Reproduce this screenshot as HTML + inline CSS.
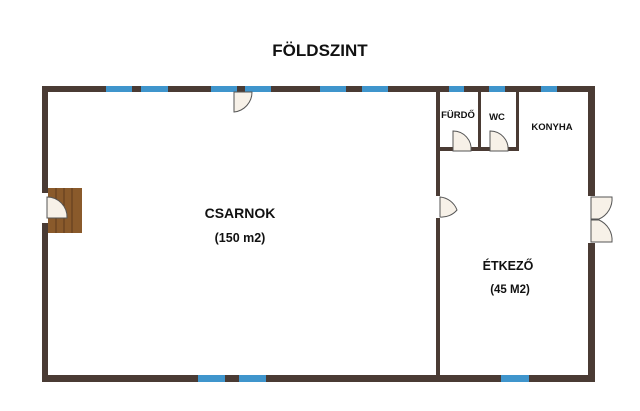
<!DOCTYPE html>
<html><head><meta charset="utf-8"><style>
html,body{margin:0;padding:0;background:#fff;}
svg{display:block}
text{font-family:"Liberation Sans",sans-serif;font-weight:bold;fill:#111;text-anchor:middle}
</style></head><body>
<svg width="640" height="411" viewBox="0 0 640 411" xmlns="http://www.w3.org/2000/svg">
<rect width="640" height="411" fill="#fff"/>
<text x="320" y="56" font-size="17">FÖLDSZINT</text>
<g fill="#4a3b34">
<rect x="42" y="86" width="553" height="6"/>
<rect x="42" y="86" width="6" height="296"/>
<rect x="42" y="375" width="553" height="7"/>
<rect x="588" y="86" width="7" height="296"/>
<rect x="436" y="89" width="4" height="290"/>
<rect x="478" y="89" width="3" height="62"/>
<rect x="516" y="89" width="3" height="62"/>
<rect x="436" y="147" width="83" height="4"/>
</g>
<g fill="#3f95cc">
<rect x="106" y="86" width="26" height="6"/><rect x="141" y="86" width="27" height="6"/>
<rect x="211" y="86" width="26" height="6"/><rect x="245" y="86" width="26" height="6"/>
<rect x="320" y="86" width="26" height="6"/><rect x="362" y="86" width="26" height="6"/>
<rect x="449" y="86" width="15" height="6"/><rect x="489" y="86" width="16" height="6"/>
<rect x="541" y="86" width="16" height="6"/>
<rect x="198" y="375" width="27" height="7"/><rect x="239" y="375" width="27" height="7"/>
<rect x="501" y="375" width="28" height="7"/>
</g>
<rect x="48" y="188" width="34" height="45" fill="#8a5a2b"/>
<g stroke="#5e3b1c" stroke-width="1"><line x1="56" y1="188" x2="56" y2="233"/><line x1="64" y1="188" x2="64" y2="233"/><line x1="72" y1="188" x2="72" y2="233"/></g>
<g fill="#f7f1e8" stroke="#555" stroke-width="1">
<rect x="42" y="193" width="6" height="30" fill="#fff" stroke="none"/>
<path d="M47 197 L47 218 L67 218 A20 20 0 0 0 47 197 Z"/>
<path d="M234 92 L234 112 A20 20 0 0 0 252 92 Z"/>
<rect x="436" y="196" width="4" height="22" fill="#fff" stroke="none"/>
<path d="M440 197 L440 217 A20 20 0 0 0 457 210 A20 20 0 0 0 440 197 Z"/>
<path d="M453 151 L453 131 A18 18 0 0 1 471 151 Z"/>
<path d="M490 151 L490 131 A18 18 0 0 1 508 151 Z"/>
<rect x="588" y="196" width="7" height="47" fill="#fff" stroke="none"/>
<path d="M591 197 L612 197 A22 22 0 0 1 599 219 L591 219 Z"/>
<path d="M591 242 L612 242 A22 22 0 0 0 599 220 L591 220 Z"/>
</g>
<text x="240" y="218" font-size="14">CSARNOK</text>
<text x="240" y="242" font-size="12.5">(150 m2)</text>
<text x="508" y="270" font-size="12.5">ÉTKEZŐ</text>
<text x="510" y="293" font-size="11.5">(45 M2)</text>
<text x="458" y="118" font-size="9.5">FÜRDŐ</text>
<text x="497" y="120" font-size="9.5">WC</text>
<text x="552" y="130" font-size="9.5">KONYHA</text>
</svg>
</body></html>
